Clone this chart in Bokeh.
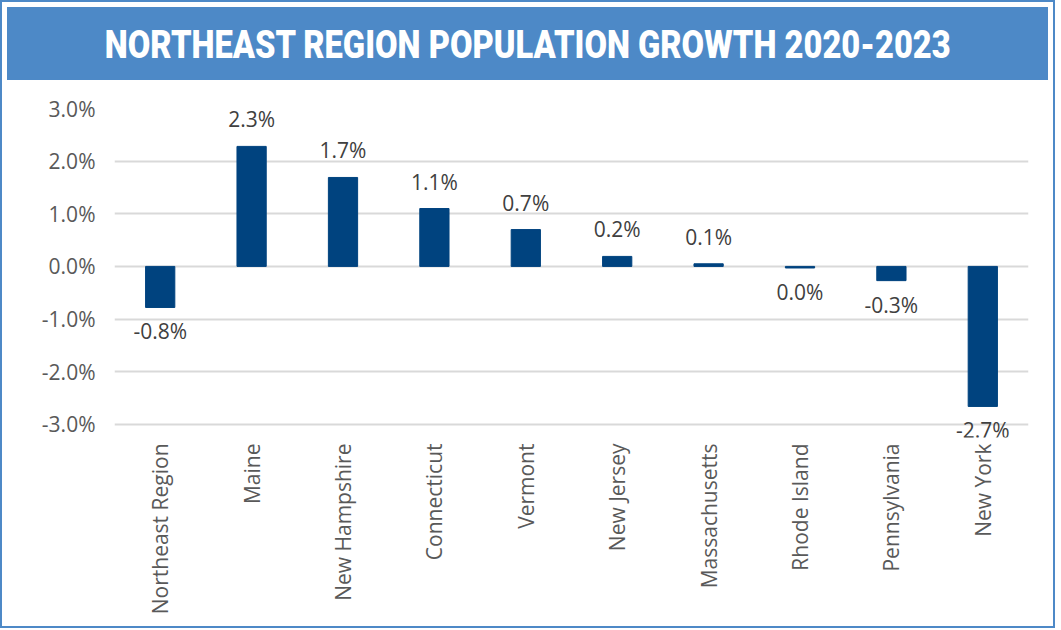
from bokeh.plotting import figure
from bokeh.layouts import column
from bokeh.models import Div, ColumnDataSource, NumeralTickFormatter, FixedTicker, Range1d, LabelSet
from bokeh.core.properties import value
from bokeh.embed import file_html
from bokeh.resources import INLINE
from math import pi

title_text = "NORTHEAST REGION POPULATION GROWTH 2020-2023"
categories = ["Northeast Region", "Maine", "New Hampshire", "Connecticut", "Vermont",
              "New Jersey", "Massachusetts", "Rhode Island", "Pennsylvania", "New York"]
growth = [-0.78, 2.28, 1.69, 1.10, 0.70, 0.19, 0.05, -0.03, -0.27, -2.66]
y_ticks = [-3.0, -2.0, -1.0, 0.0, 1.0, 2.0, 3.0]

BLUE = "#4d89c7"
BAR = "#00437f"
FONT = "Open Sans"

labels = [f"{abs(v):.1f}%" if round(v, 1) == 0 else f"{v:.1f}%" for v in growth]
pos = [v >= 0 for v in growth]
src_pos = ColumnDataSource(dict(x=[c for c, q in zip(categories, pos) if q],
                                y=[v / 100 for v, q in zip(growth, pos) if q],
                                t=[l for l, q in zip(labels, pos) if q]))
src_neg = ColumnDataSource(dict(x=[c for c, q in zip(categories, pos) if not q],
                                y=[v / 100 for v, q in zip(growth, pos) if not q],
                                t=[l for l, q in zip(labels, pos) if not q]))
src = ColumnDataSource(dict(x=categories, top=[v / 100 for v in growth]))

banner = Div(text=f'<span style="display:inline-block; transform:scaleX(0.86); white-space:nowrap">{title_text}</span>',
             width=1041, height=73,
             styles={"background-color": BLUE, "color": "white",
                     "font-family": "Roboto, 'Open Sans', sans-serif",
                     "font-weight": "900", "font-size": "38px",
                     "display": "flex", "align-items": "center", "justify-content": "center",
                     "width": "1041px", "height": "73px", "padding-top": "3px"})

p = figure(x_range=categories, y_range=Range1d(-0.0325, 0.03), width=1041, height=541,
           output_backend="svg", toolbar_location=None,
           min_border_left=112, min_border_right=15, min_border_top=23, min_border_bottom=189)
p.outline_line_color = None
p.background_fill_color = "white"
p.border_fill_color = "white"

p.vbar(x="x", top="top", bottom=0, width=0.32, source=src, color=BAR)

p.add_layout(LabelSet(x="x", y="y", text="t", source=src_pos, text_align="center",
                      text_baseline="bottom", y_offset=13, text_font=value(FONT),
                      text_font_size="21px", text_color="#404040"))
p.add_layout(LabelSet(x="x", y="y", text="t", source=src_neg, text_align="center",
                      text_baseline="top", y_offset=-10, text_font=value(FONT),
                      text_font_size="21px", text_color="#404040"))

p.yaxis.ticker = FixedTicker(ticks=[t / 100 for t in y_ticks])
p.yaxis.formatter = NumeralTickFormatter(format="0.0%")
p.ygrid.ticker = FixedTicker(ticks=[t / 100 for t in y_ticks])
p.ygrid.grid_line_color = "#d9d9d9"
p.ygrid.grid_line_width = 2
p.xgrid.grid_line_color = None

for ax in (p.xaxis, p.yaxis):
    ax.axis_line_color = None
    ax.major_tick_line_color = None
    ax.minor_tick_line_color = None
    ax.major_label_text_font = FONT
    ax.major_label_text_font_size = "21px"
    ax.major_label_text_color = "#595959"
p.yaxis.major_label_standoff = 13
p.xaxis.major_label_orientation = pi / 2
p.xaxis.major_label_standoff = 0

layout = column(banner, p, spacing=0,
                styles={"border": f"2px solid {BLUE}", "background-color": "white"})

open("out.html", "w").write(file_html(layout, INLINE))
